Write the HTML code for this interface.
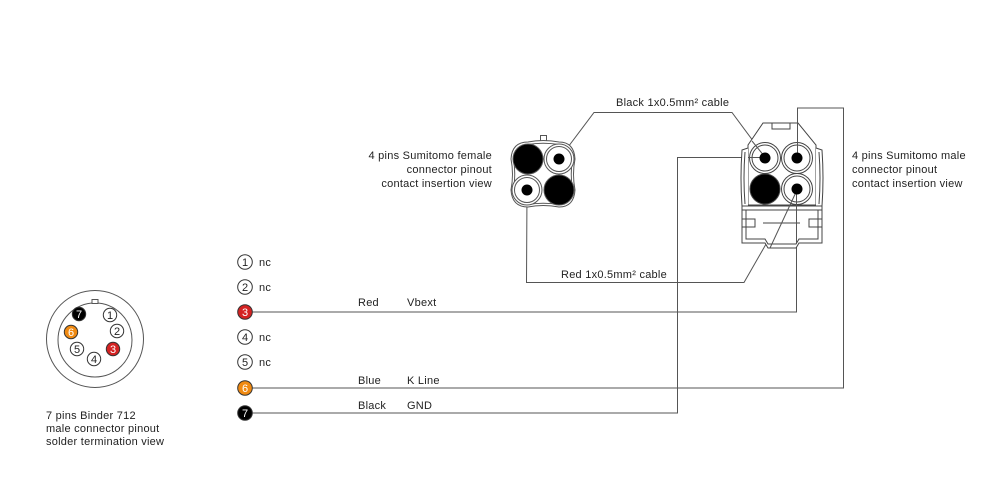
<!DOCTYPE html>
<html>
<head>
<meta charset="utf-8">
<style>
html,body{margin:0;padding:0;background:#fff;}
svg{display:block;}
text{font-family:"Liberation Sans",Arial,sans-serif;font-size:11px;fill:#222;letter-spacing:0.25px;}
.n{font-size:11px;text-anchor:middle;letter-spacing:0;}
.w{fill:#fff;}
</style>
</head>
<body>
<svg width="1000" height="500" viewBox="0 0 1000 500" xmlns="http://www.w3.org/2000/svg">
<rect width="1000" height="500" fill="#fff"/>

<!-- wires -->
<g fill="none" stroke="#555" stroke-width="1">
  <polyline points="252,312 796.5,312 796.5,190"/>
  <polyline points="252,388 843.5,388 843.5,108 797.5,108 797.5,158"/>
  <polyline points="252,413 677.5,413 677.5,157.5 765,157.5"/>
  <polyline points="559,159 594,112.5 732,112.5 765,157"/>
  <polyline points="527,190 526.5,282.5 744,282.5 797,190"/>
</g>

<!-- Binder 712 connector -->
<g stroke="#555" stroke-width="1" fill="none">
  <circle cx="95" cy="339" r="48.5"/>
  <circle cx="95" cy="340" r="37"/>
  <rect x="92" y="299.5" width="6" height="4" fill="#fff"/>
</g>
<g stroke="#333" stroke-width="1">
  <circle cx="79" cy="314" r="6.7" fill="#000"/>
  <circle cx="110" cy="315" r="6.7" fill="#fff"/>
  <circle cx="71" cy="332" r="6.7" fill="#f08a12"/>
  <circle cx="117" cy="331" r="6.7" fill="#fff"/>
  <circle cx="77" cy="349" r="6.7" fill="#fff"/>
  <circle cx="113" cy="349" r="6.7" fill="#d42222"/>
  <circle cx="94" cy="359" r="6.7" fill="#fff"/>
</g>
<text class="n w" x="79" y="318">7</text>
<text class="n" x="110" y="319">1</text>
<text class="n w" x="71" y="336">6</text>
<text class="n" x="117" y="335">2</text>
<text class="n" x="77" y="353">5</text>
<text class="n w" x="113" y="353">3</text>
<text class="n" x="94" y="363">4</text>

<text x="46" y="419">7 pins Binder 712</text>
<text x="46" y="432">male connector pinout</text>
<text x="46" y="445">solder termination view</text>

<!-- pin list -->
<g stroke="#333" stroke-width="1">
  <circle cx="245" cy="262" r="7.3" fill="#fff"/>
  <circle cx="245" cy="287" r="7.3" fill="#fff"/>
  <circle cx="245" cy="312" r="7.3" fill="#d42222"/>
  <circle cx="245" cy="337" r="7.3" fill="#fff"/>
  <circle cx="245" cy="362" r="7.3" fill="#fff"/>
  <circle cx="245" cy="388" r="7.3" fill="#f08a12"/>
  <circle cx="245" cy="413" r="7.3" fill="#000"/>
</g>
<text class="n" x="245" y="266">1</text>
<text class="n" x="245" y="291">2</text>
<text class="n w" x="245" y="316">3</text>
<text class="n" x="245" y="341">4</text>
<text class="n" x="245" y="366">5</text>
<text class="n w" x="245" y="392">6</text>
<text class="n w" x="245" y="417">7</text>

<text x="259" y="266">nc</text>
<text x="259" y="291">nc</text>
<text x="259" y="341">nc</text>
<text x="259" y="366">nc</text>

<text x="358" y="306">Red</text>
<text x="407" y="306">Vbext</text>
<text x="358" y="384">Blue</text>
<text x="407" y="384">K Line</text>
<text x="358" y="409">Black</text>
<text x="407" y="409">GND</text>

<text x="616" y="106">Black 1x0.5mm² cable</text>
<text x="561" y="278">Red 1x0.5mm² cable</text>

<!-- female connector -->
<g stroke="#555" stroke-width="1">
  <rect x="540.5" y="135.5" width="6" height="7" fill="#fff"/>
  <path d="M528,142 Q543,139 559,142 Q574,142 575,159 Q572,174 575,190 Q574,207 559,207 Q543,204 528,207 Q512,207 511,190 Q514,174 511,159 Q512,142 528,142 Z" fill="#fff"/>
  <path d="M528,144.5 Q543,142 559,144.5 Q572,145 572.5,159 Q570,174 572.5,190 Q572,204.5 559,204.5 Q543,202 528,204.5 Q514,204 513.5,190 Q516,174 513.5,159 Q514,145 528,144.5 Z" fill="#fff"/>
  <circle cx="528" cy="159" r="15" fill="#000"/>
  <circle cx="559" cy="190" r="15" fill="#000"/>
  <circle cx="559" cy="159" r="15" fill="#fff"/>
  <circle cx="559" cy="159" r="12.5" fill="#fff"/>
  <circle cx="527" cy="190" r="15" fill="#fff"/>
  <circle cx="527" cy="190" r="12.5" fill="#fff"/>
</g>
<circle cx="559" cy="159" r="5.5" fill="#000"/>
<circle cx="527" cy="190" r="5.5" fill="#000"/>

<text x="492" y="159" text-anchor="end">4 pins Sumitomo female</text>
<text x="492" y="173" text-anchor="end">connector pinout</text>
<text x="492" y="187" text-anchor="end">contact insertion view</text>

<!-- male connector -->
<g stroke="#444" stroke-width="1" fill="#fff">
  <path d="M748,205 L748,145 L763,123 L798,123 L816,145 L816,205 Z"/>
  <rect x="772" y="123" width="18" height="6"/>
  <path d="M748,148 L742,150 Q740,178 742,206 L748,206"/>
  <path d="M816,148 L822,150 Q824,178 822,206 L816,206"/>
  <path d="M745,152 Q743,178 745,204" fill="none"/>
  <path d="M819,152 Q821,178 819,204" fill="none"/>
  <path d="M742,206 L822,206 L822,243 L799,243 L796,248 L768,248 L765,243 L742,243 Z"/>
  <path d="M742,210 L822,210" fill="none"/>
  <path d="M742,219 L755,219 L755,227 L742,227" fill="none"/>
  <path d="M822,219 L809,219 L809,227 L822,227" fill="none"/>
  <path d="M746,210 L746,239 L765,239 L768,244 L796,244 L799,239 L818,239 L818,210" fill="none"/>
  <path d="M763,223 L800,223" fill="none"/>
  <circle cx="765" cy="158" r="15.5"/>
  <circle cx="765" cy="158" r="13"/>
  <circle cx="797" cy="158" r="15.5"/>
  <circle cx="797" cy="158" r="13"/>
  <circle cx="797" cy="189" r="15.5"/>
  <circle cx="797" cy="189" r="13"/>
  <circle cx="765" cy="189" r="15" fill="#000"/>
</g>
<g fill="none" stroke="#555" stroke-width="1">
  <line x1="796.5" y1="243" x2="796.5" y2="190"/>
  <line x1="770" y1="248" x2="797" y2="190"/>
  <line x1="797.5" y1="108" x2="797.5" y2="158"/>
  <line x1="748" y1="157.5" x2="765" y2="157.5"/>
  <line x1="752" y1="141" x2="765" y2="157"/>
</g>
<circle cx="765" cy="158" r="5.5" fill="#000"/>
<circle cx="797" cy="158" r="5.5" fill="#000"/>
<circle cx="797" cy="189" r="5.5" fill="#000"/>

<text x="852" y="159">4 pins Sumitomo male</text>
<text x="852" y="173">connector pinout</text>
<text x="852" y="187">contact insertion view</text>
</svg>
</body>
</html>
